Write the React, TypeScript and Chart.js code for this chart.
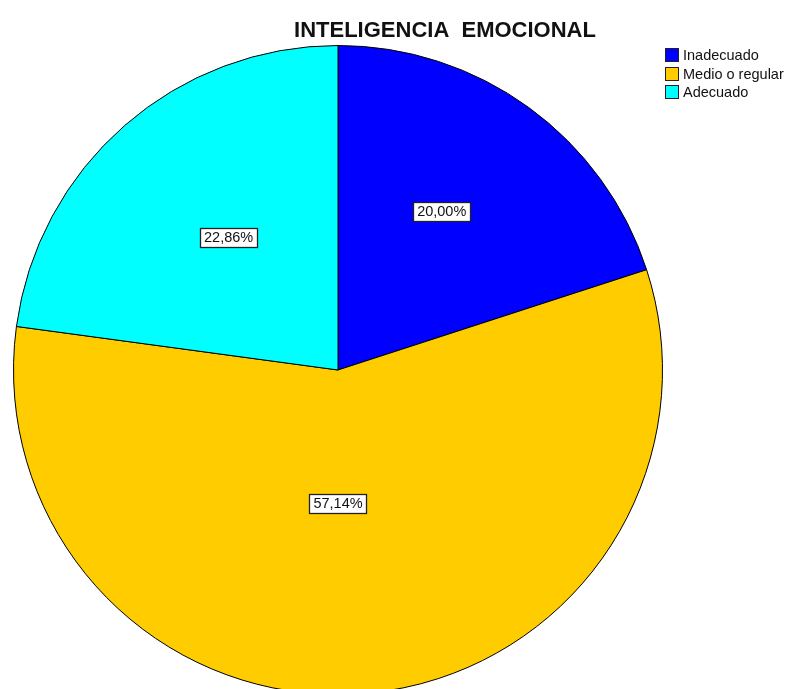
import React, { useEffect, useRef } from "react";
import { Chart, registerables } from "chart.js";

Chart.register(...registerables);

const TITLE = "INTELIGENCIA  EMOCIONAL";
const CATEGORIES = ["Inadecuado", "Medio o regular", "Adecuado"];
const COUNTS = [7, 20, 8];
const PERCENT_LABELS = ["20,00%", "57,14%", "22,86%"];
const COLORS = ["#0000FF", "#FFCC00", "#00FFFF"];

const FONT = '"Liberation Sans", Arial, sans-serif';

const labelPlacement = [
  { angleFrac: 0.46, radFrac: 0.585 },
  { angleFrac: 0.525, radFrac: 0.41 },
  { angleFrac: 0.52, radFrac: 0.53 },
];

const overlayPlugin = {
  id: "overlay",
  afterDraw(chart: any) {
    const ctx = chart.ctx as CanvasRenderingContext2D;
    const meta = chart.getDatasetMeta(0);
    ctx.save();
    // slice labels
    ctx.font = `14.5px ${FONT}`;
    ctx.textAlign = "center";
    ctx.textBaseline = "middle";
    meta.data.forEach((arc: any, i: number) => {
      const p = arc.getProps(["x", "y", "startAngle", "endAngle", "outerRadius"], true);
      const pl = labelPlacement[i];
      const a = p.startAngle + pl.angleFrac * (p.endAngle - p.startAngle);
      const r = p.outerRadius * pl.radFrac;
      const cx = p.x + Math.cos(a) * r;
      const cy = p.y + Math.sin(a) * r;
      const txt = PERCENT_LABELS[i];
      const w = ctx.measureText(txt).width + 8;
      const h = 19;
      const bx = Math.round(cx - w / 2) + 0.5;
      const by = Math.round(cy - h / 2) + 0.5;
      ctx.fillStyle = "#FFFFFF";
      ctx.fillRect(bx, by, Math.round(w), h);
      ctx.strokeStyle = "#222222";
      ctx.lineWidth = 1.3;
      ctx.strokeRect(bx, by, Math.round(w), h);
      ctx.fillStyle = "#111111";
      ctx.fillText(txt, cx, cy + 1);
    });
    // title
    ctx.font = `bold 22px ${FONT}`;
    ctx.fillStyle = "#111111";
    ctx.textAlign = "center";
    ctx.textBaseline = "alphabetic";
    ctx.fillText(TITLE, 445, 37);
    // legend
    ctx.font = `14.5px ${FONT}`;
    ctx.textAlign = "left";
    ctx.textBaseline = "middle";
    CATEGORIES.forEach((c, i) => {
      const y = 48 + i * 18.7;
      ctx.fillStyle = COLORS[i];
      ctx.fillRect(665.5, Math.round(y) + 0.5, 13, 13);
      ctx.strokeStyle = "#222222";
      ctx.lineWidth = 1;
      ctx.strokeRect(665.5, Math.round(y) + 0.5, 13, 13);
      ctx.fillStyle = "#111111";
      ctx.fillText(c, 683, Math.round(y) + 7.5);
    });
    ctx.restore();
  },
};

export default function App() {
  const ref = useRef<HTMLCanvasElement | null>(null);
  useEffect(() => {
    if (!ref.current) return;
    const chart = new Chart(ref.current, {
      type: "pie",
      data: {
        labels: CATEGORIES,
        datasets: [
          {
            data: COUNTS,
            backgroundColor: COLORS,
            borderColor: "#000000",
            borderWidth: 1,
          },
        ],
      },
      options: {
        responsive: false,
        animation: false,
        layout: { padding: { left: 13, right: 126, top: 45, bottom: 25 } },
        plugins: {
          legend: { display: false },
          title: { display: false },
          tooltip: { enabled: false },
        },
      },
      plugins: [overlayPlugin],
    });
    return () => chart.destroy();
  }, []);
  return (
    <div
      style={{
        position: "fixed",
        left: 0,
        top: 0,
        width: 789,
        height: 689,
        overflow: "hidden",
        background: "#FFFFFF",
      }}
    >
      <canvas ref={ref} width={789} height={720} style={{ width: 789, height: 720, display: "block" }} />
    </div>
  );
}
